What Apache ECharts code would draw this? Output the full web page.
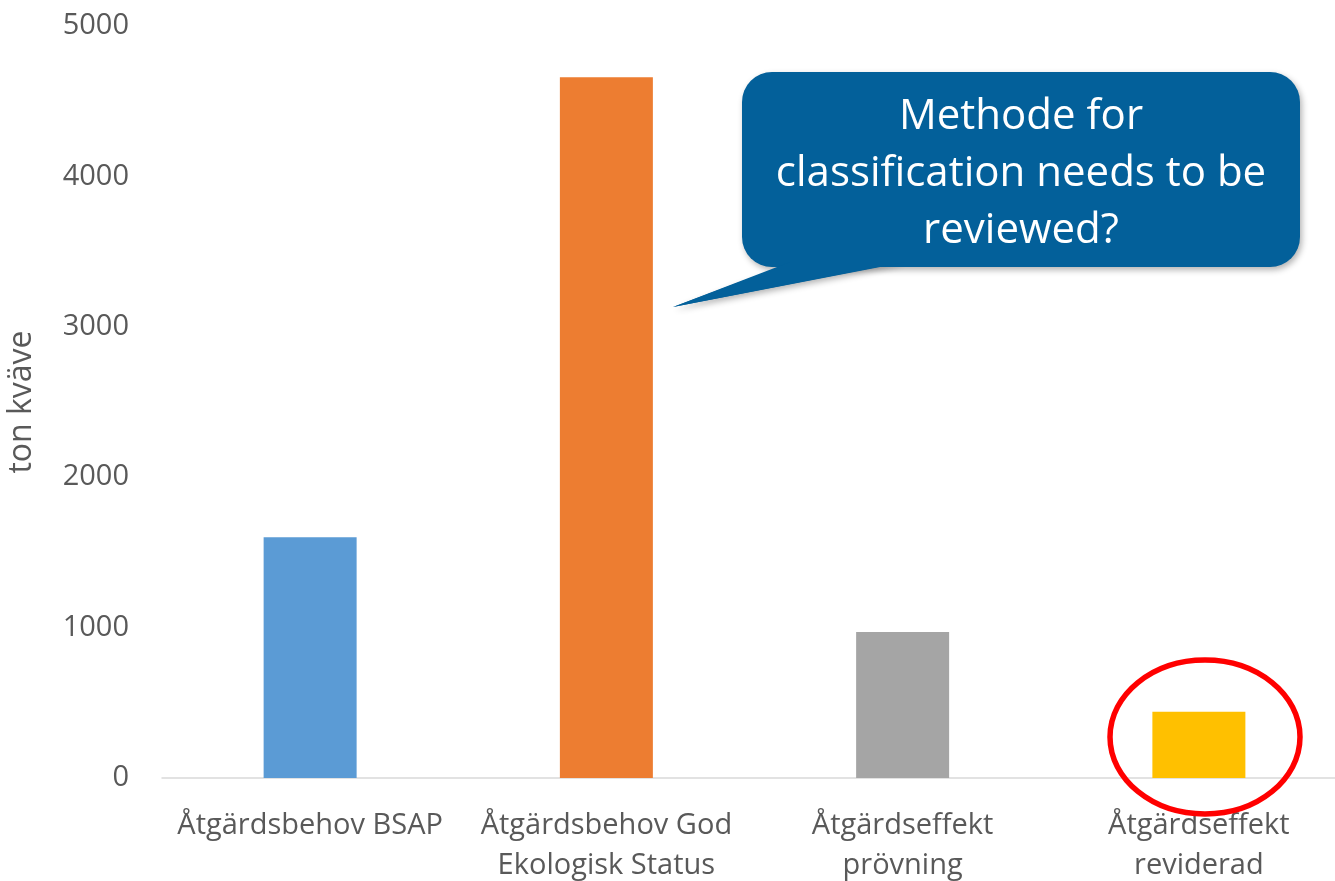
<!DOCTYPE html>
<html>
<head>
<meta charset="utf-8">
<script src="https://cdn.jsdelivr.net/npm/echarts@6/dist/echarts.min.js"></script>
<style>
  html, body { margin: 0; padding: 0; background: #fff; overflow: hidden; }
  /* a bit wider than the window: the plot area runs past the right edge */
  #chart { width: 1347px; height: 881px; }
</style>
</head>
<body>
<div id="chart"></div>
<script>
const categories = ['Åtgärdsbehov BSAP', 'Åtgärdsbehov God\nEkologisk Status', 'Åtgärdseffekt\nprövning', 'Åtgärdseffekt\nreviderad']
const values = [1600, 4660, 970, 440]
const barColors = ['#5b9bd5', '#ed7d31', '#a5a5a5', '#ffc000']
const yTicks = [0, 1000, 2000, 3000, 4000, 5000]
const calloutLines = ['Methode for', 'classification needs to be', 'reviewed?']

const font = 'Open Sans, sans-serif'
const chart = echarts.init(document.getElementById('chart'))

chart.setOption({
  animation: false,
  grid: {
    left: 162,
    right: 0,
    top: 26,
    bottom: 103,
    containLabel: false,
    outerBoundsMode: 'none'
  },
  xAxis: {
    type: 'category',
    data: categories,
    axisLine: { lineStyle: { color: '#d9d9d9', width: 1.5 } },
    axisTick: { show: false },
    axisLabel: {
      color: '#595959',
      fontFamily: font,
      fontSize: 29,
      lineHeight: 40,
      margin: 28,
      interval: 0
    }
  },
  yAxis: {
    type: 'value',
    min: yTicks[0],
    max: yTicks[yTicks.length - 1],
    interval: 1000,
    name: 'ton kväve',
    nameLocation: 'middle',
    nameGap: 124,
    nameTextStyle: { color: '#595959', fontFamily: font, fontSize: 32 },
    splitLine: { show: false },
    axisLine: { show: false },
    axisTick: { show: false },
    axisLabel: {
      color: '#595959',
      fontFamily: font,
      fontSize: 29,
      margin: 33,
      formatter: v => String(v)
    }
  },
  series: [{
    type: 'bar',
    barWidth: 93,
    data: values.map((v, i) => ({ value: v, itemStyle: { color: barColors[i] } }))
  }],
  graphic: [
    {
      type: 'polygon',
      shape: { points: [[793, 262], [903, 262], [673, 307]] },
      style: { fill: '#03609a', shadowBlur: 6, shadowColor: 'rgba(0,0,0,0.3)', shadowOffsetX: 2, shadowOffsetY: 3 },
      z: 10
    },
    {
      type: 'rect',
      shape: { x: 742, y: 72, width: 558, height: 195, r: 30 },
      style: { fill: '#03609a', shadowBlur: 6, shadowColor: 'rgba(0,0,0,0.3)', shadowOffsetX: 2, shadowOffsetY: 3 },
      z: 10
    },
    {
      type: 'polygon',
      shape: { points: [[790, 262], [906, 262], [673, 307]] },
      style: { fill: '#03609a' },
      z: 11
    },
    {
      type: 'text',
      x: 1021,
      y: 174,
      style: {
        text: calloutLines.join('\n'),
        fill: '#fff',
        fontFamily: font,
        fontSize: 42,
        lineHeight: 57,
        align: 'center',
        verticalAlign: 'middle'
      },
      z: 12
    },
    {
      type: 'ellipse',
      shape: { cx: 1205, cy: 737, rx: 95, ry: 77 },
      style: { fill: 'none', stroke: '#ff0000', lineWidth: 5.5 },
      z: 12
    }
  ]
})
</script>
</body>
</html>
